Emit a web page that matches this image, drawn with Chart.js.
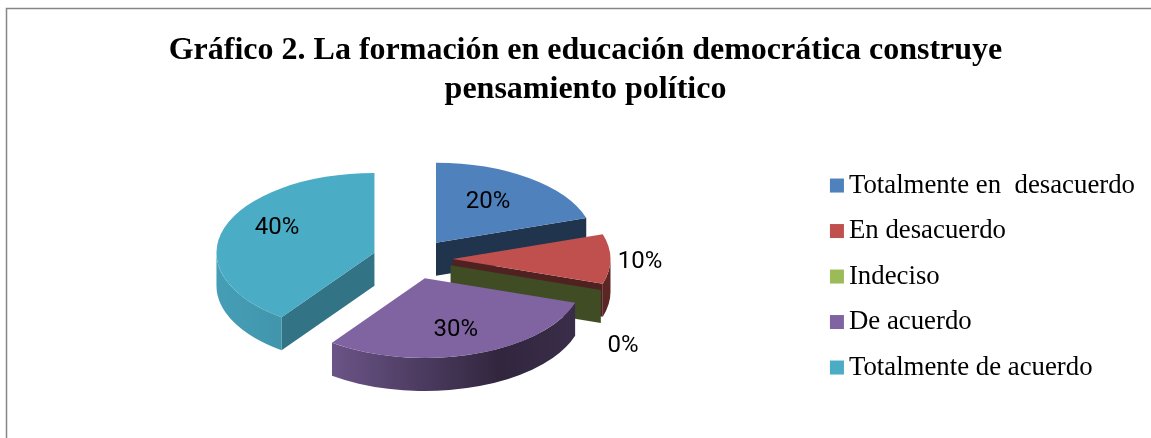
<!DOCTYPE html>
<html>
<head>
<meta charset="utf-8">
<style>
html,body{margin:0;padding:0;background:#fff;overflow:hidden}
#wrap{position:absolute;left:0;top:0;width:1151px;height:438px}
</style>
<script src="https://cdn.jsdelivr.net/npm/chart.js@4/dist/chart.umd.min.js"></script>
</head>
<body>
<div id="wrap"><canvas id="c" width="1151" height="438"></canvas></div>
<script>
const categories = ['Totalmente en  desacuerdo','En desacuerdo','Indeciso','De acuerdo','Totalmente de acuerdo'];
const values = [20,10,0,30,40];
const titleLines = ['Gráfico 2. La formación en educación democrática construye','pensamiento político'];
const colors = ['#4F81BD','#C0504D','#9BBB59','#8064A2','#4BACC6'];

// Pie projection settings
const pieCenter = {x:412.5, y:259};
const pieRadius = 158, explode = 40, tilt = 0.505, depth = 33;
// Where each percentage label sits, relative to its slice's apex
const labelShift = [[52,-41],[187.5,3],[172.5,81],[31,52],[-97.5,-25]];

function shade(hex,f){
  const n=parseInt(hex.slice(1),16);
  return 'rgb('+[(n>>16)&255,(n>>8)&255,n&255].map(v=>Math.round(v*f)).join(',')+')';
}
function apex(el){
  const mid=el.startAngle+(el.endAngle-el.startAngle)/2;
  return {x:pieCenter.x+Math.cos(mid)*explode, y:pieCenter.y+Math.sin(mid)*explode*tilt, mid};
}
const pie3d = {
  id:'pie3d',
  beforeDraw(chart){
    const ctx=chart.ctx;
    ctx.save();
    ctx.strokeStyle='#868686';ctx.lineWidth=1.5;
    ctx.beginPath();ctx.moveTo(chart.width,8.5);ctx.lineTo(6.5,8.5);ctx.lineTo(6.5,chart.height);ctx.stroke();
    ctx.restore();
  },
  beforeDatasetsDraw(chart){
    const ctx=chart.ctx, arcs=chart.getDatasetMeta(0).data;
    const order=arcs.map((el,i)=>i).sort((a,b)=>Math.sin(apex(arcs[a]).mid)-Math.sin(apex(arcs[b]).mid));
    order.forEach(i=>{
      const el=arcs[i], c=colors[i], p=apex(el), R=el.outerRadius;
      const rim=a=>({x:p.x+Math.cos(a)*R, y:p.y+Math.sin(a)*R*tilt});
      const face=(a,fill)=>{
        const r=rim(a);
        ctx.fillStyle=fill;
        ctx.beginPath();ctx.moveTo(p.x,p.y);ctx.lineTo(r.x,r.y);ctx.lineTo(r.x,r.y+depth);ctx.lineTo(p.x,p.y+depth);ctx.closePath();ctx.fill();
      };
      if(Math.cos(el.startAngle)<-1e-6) face(el.startAngle,shade(c,0.67));
      if(Math.cos(el.endAngle)>1e-6) face(el.endAngle,shade(c,0.41));
      // outer wall: only the part facing the viewer
      const segs=[[el.startAngle,el.endAngle],[el.startAngle-2*Math.PI,el.endAngle-2*Math.PI]];
      segs.forEach(([s0,e0])=>{
        const s=Math.max(s0,0), e=Math.min(e0,Math.PI);
        if(e<=s) return;
        const g=ctx.createLinearGradient(216,0,610,0);
        g.addColorStop(0,shade(c,0.92));
        g.addColorStop(0.3,shade(c,0.83));
        g.addColorStop(0.72,shade(c,0.38));
        g.addColorStop(1,shade(c,0.48));
        ctx.fillStyle=g;
        ctx.beginPath();
        ctx.ellipse(p.x,p.y,R,R*tilt,0,s,e,false);
        ctx.ellipse(p.x,p.y+depth,R,R*tilt,0,e,s,true);
        ctx.closePath();ctx.fill();
      });
    });
  },
  beforeDatasetDraw(chart){
    // draw the library's own arc elements, squashed and moved apart
    const ctx=chart.ctx;
    chart.getDatasetMeta(0).data.forEach(el=>{
      const p=apex(el);
      ctx.save();
      ctx.translate(p.x,p.y);
      ctx.scale(1,tilt);
      ctx.translate(-el.x,-el.y);
      el.draw(ctx);
      ctx.restore();
    });
    return false;
  },
  afterDatasetsDraw(chart){
    const ctx=chart.ctx, arcs=chart.getDatasetMeta(0).data;
    ctx.save();
    ctx.fillStyle='#000';ctx.font='24px Roboto';ctx.textAlign='center';ctx.textBaseline='middle';
    arcs.forEach((el,i)=>{
      const p=apex(el);
      ctx.fillText(values[i]+'%',p.x+labelShift[i][0],p.y+labelShift[i][1]);
    });
    ctx.restore();
  },
  afterDraw(chart){
    // legend squares, placed on the legend's own item boxes
    const ctx=chart.ctx;
    chart.legend.legendHitBoxes.forEach((b,i)=>{
      ctx.fillStyle=colors[i];
      ctx.fillRect(b.left,b.top+b.height/2-7,14,14);
    });
  }
};
new Chart(document.getElementById('c'),{
  type:'pie',
  data:{labels:categories,datasets:[{data:values,backgroundColor:colors,borderWidth:0,radius:pieRadius}]},
  plugins:[pie3d],
  options:{
    responsive:false,animation:false,
    layout:{padding:{left:26,right:6,top:0,bottom:0}},
    events:[],
    plugins:{
      tooltip:{enabled:false},
      title:{display:true,text:titleLines,color:'#000',align:'center',
        font:{family:'"Liberation Serif"',size:32,weight:'bold',lineHeight:1.22},
        padding:{top:31,bottom:6}},
      legend:{display:true,position:'right',align:'center',fullSize:false,
        labels:{color:'#000',font:{family:'"Liberation Serif"',size:26.8},boxWidth:5.6,boxHeight:14,padding:18.7,
          generateLabels(chart){
            return Chart.overrides.pie.plugins.legend.labels.generateLabels(chart)
              .map(l=>Object.assign(l,{fillStyle:'rgba(0,0,0,0)',strokeStyle:'rgba(0,0,0,0)'}));
          }}}
    }
  }
});
</script>
</body>
</html>
